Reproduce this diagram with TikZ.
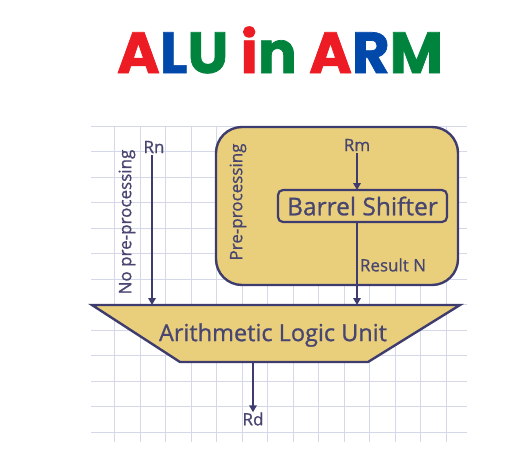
\documentclass[tikz,border=0pt]{standalone}
\usepackage{fontspec}
\setmainfont{Open Sans}[UprightFeatures={FakeBold=0.9}]
\newfontfamily\titlefont{Poppins}[BoldFeatures={FakeBold=1.2}]
\usetikzlibrary{arrows.meta}
\definecolor{lineC}{RGB}{62,60,110}
\definecolor{textC}{RGB}{72,70,112}
\definecolor{fillC}{RGB}{233,207,124}
\definecolor{gridC}{RGB}{212,216,232}
\definecolor{tRed}{RGB}{237,28,36}
\definecolor{tBlue}{RGB}{0,72,170}
\definecolor{tGreen}{RGB}{0,132,61}
\tikzset{
  box/.style={draw=lineC, line width=2.4pt, fill=fillC},
  lbl/.style={text=textC, inner sep=0pt, font=\fontsize{17}{20}\selectfont},
  conn/.style={draw=lineC, line width=2.3pt, -{Triangle[length=7pt,width=7.5pt]}},
  plain/.style={draw=lineC, line width=2pt}
}
\begin{document}
\begin{tikzpicture}[x=1pt,y=-1pt]
\useasboundingbox (0,0) rectangle (529,450);
\fill[white] (0,0) rectangle (529,450);
% grid
\foreach \k in {0,...,12} \draw[gridC, line width=0.8pt] (91,126+25.5*\k) -- (467,126+25.5*\k);
\foreach \k in {0,...,13} \draw[gridC, line width=0.8pt] (114.5+25.5*\k,126) -- (114.5+25.5*\k,442);
% title
\node (title) at (280,50) {\titlefont\bfseries\fontsize{58}{60}\selectfont
  \textcolor{tRed}{A}\textcolor{tBlue}{L}\textcolor{tGreen}{U} \textcolor{tRed}{i}\textcolor{tGreen}{n} \textcolor{tRed}{A}\textcolor{tBlue}{R}\textcolor{tGreen}{M}};
% pre-processing box
\draw[box, rounded corners=26pt] (216,127) rectangle (458,285);
\node[lbl, rotate=90] (prelbl) at (238,202) {Pre-processing};
\node[lbl] (rm) at (357,145) {Rm};
\node[draw=lineC, line width=2.2pt, fill=fillC, rounded corners=5pt, minimum width=169pt, minimum height=32pt, inner sep=0pt, text=textC, font=\fontsize{24.5}{26}\selectfont] (barrel) at (362.5,206) {Barrel Shifter};
\node[lbl] (resn) at (393,265) {Result N};
% ALU
\coordinate (atl) at (92,305);
\coordinate (atr) at (460,305);
\coordinate (abr) at (368,362);
\coordinate (abl) at (180,362);
\draw[box, line join=miter] (atl) -- (atr) -- (abr) -- (abl) -- cycle;
\node[text=textC, inner sep=0pt, font=\fontsize{23.5}{26}\selectfont] (alu) at (273,335) {Arithmetic Logic Unit};
% Rn
\node[lbl] (rn) at (154,147) {Rn};
\node[lbl, rotate=90] (nopre) at (127,222) {No pre-processing};
\coordinate (rnend) at (152,305);
\draw[conn] (rn.south -| rnend) ++(0,2) -- (rnend);
% Rm path
\coordinate (rmin) at (357,190);
\draw[conn] (rm.south -| rmin) ++(0,2) -- (rmin);
\coordinate (bout) at (357,222);
\coordinate (aluin) at (357,305);
\draw[conn] (bout) -- (aluin);
% output
\coordinate (aout) at (253,362);
\node[lbl] (rd) at (253,419) {Rd};
\draw[conn] (aout) -- (rd.north);
\end{tikzpicture}
\end{document}
